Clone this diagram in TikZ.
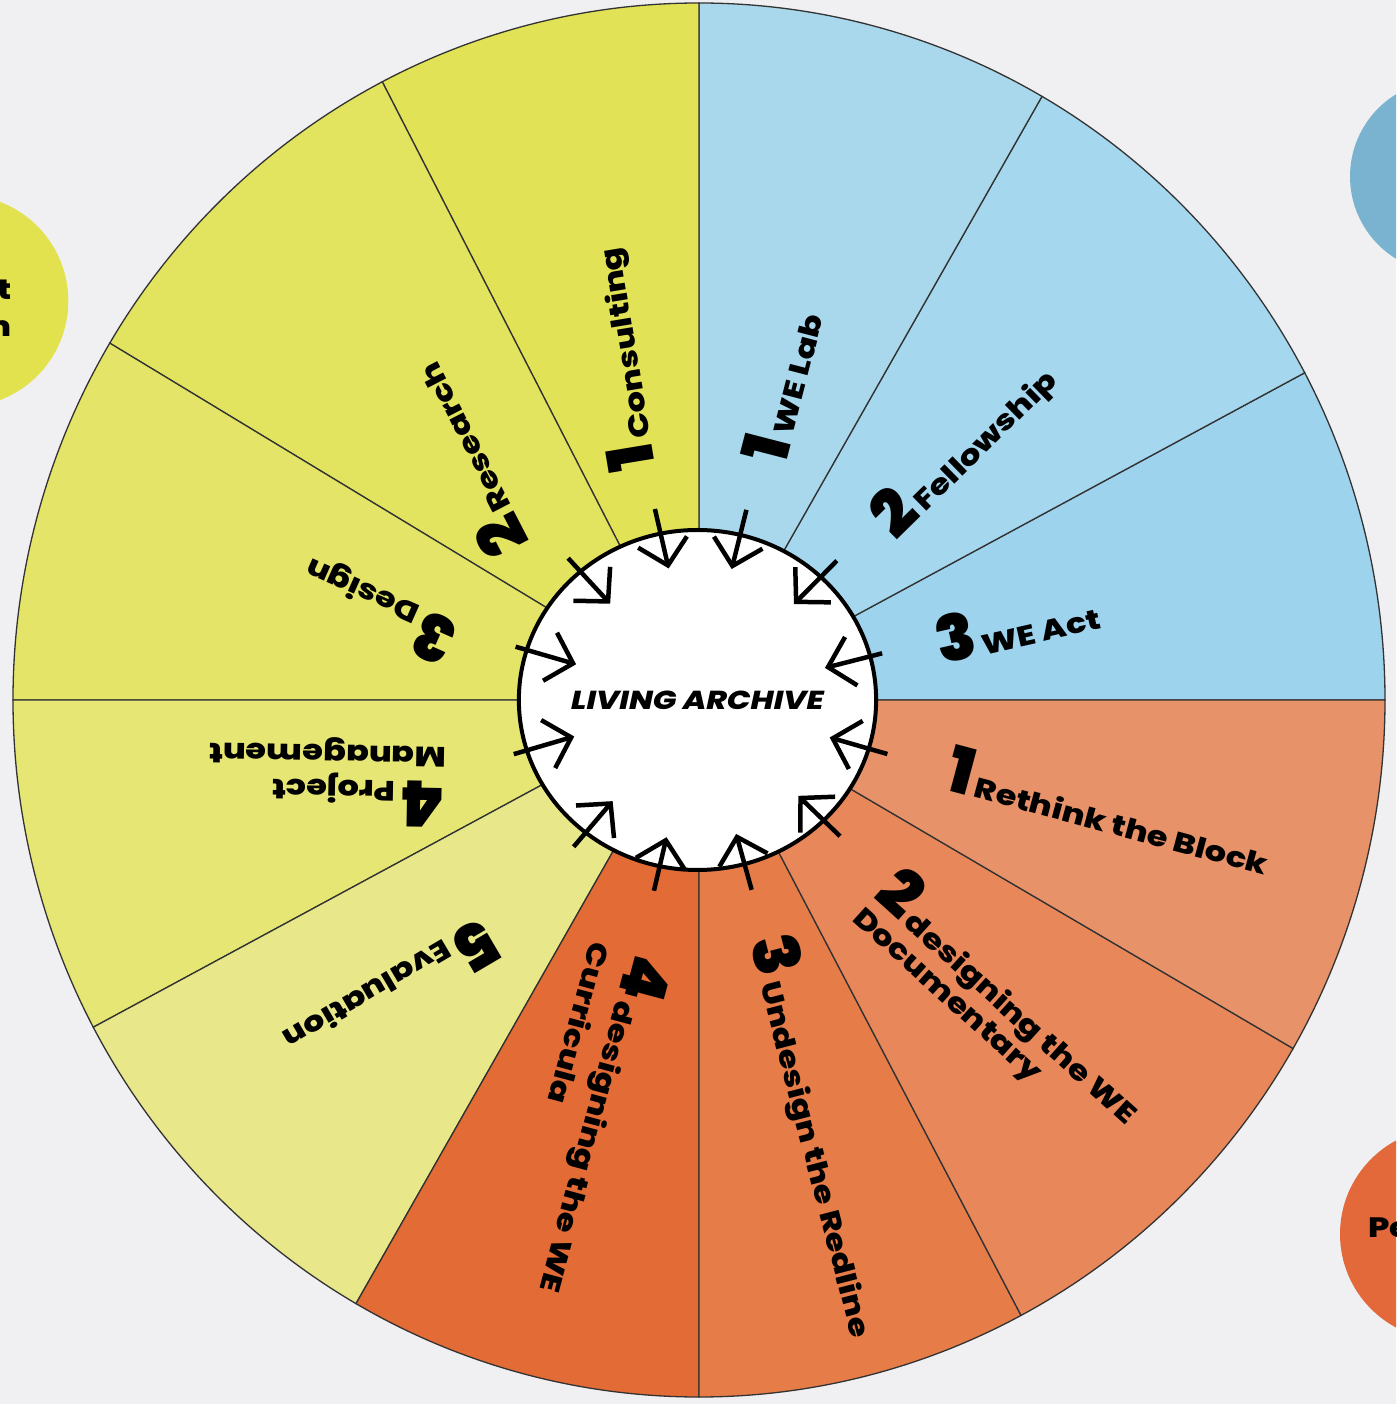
\documentclass[tikz,border=0pt]{standalone}
\usepackage{fontspec}
\setmainfont{Poppins}[FakeStretch=1.2, BoldFont={* ExtraBold}]
\newfontfamily\digitfont{Poppins}[BoldFont={* Black}]
\usepackage{tikz}
\usetikzlibrary{arrows.meta, shapes.geometric}
\definecolor{paper}{HTML}{F0F0F2}
\definecolor{yelA}{HTML}{E1E255}
\definecolor{yelB}{HTML}{E2E35E}
\definecolor{yelC}{HTML}{E4E468}
\definecolor{yelD}{HTML}{E6E674}
\definecolor{yelE}{HTML}{E8E78A}
\definecolor{bluA}{HTML}{A9D8EC}
\definecolor{bluB}{HTML}{A5D7EE}
\definecolor{bluC}{HTML}{9ED3EE}
\definecolor{orgA}{HTML}{E8926A}
\definecolor{orgB}{HTML}{E8875A}
\definecolor{orgC}{HTML}{E67C48}
\definecolor{orgD}{HTML}{E36B36}
\definecolor{spoke}{HTML}{333333}
\definecolor{sideblue}{HTML}{7AB3D0}
\definecolor{sideorange}{HTML}{E4693A}
\definecolor{sideyellow}{HTML}{E2E24E}
\newcommand{\stepnum}[1]{{\digitfont\fontsize{64}{64}\selectfont #1}\hspace{5pt}}

\begin{document}
\begin{tikzpicture}[x=1pt, y=1pt,
    wedge/.style={draw=spoke, line width=1.3pt},
    lbl/.style={anchor=base west, inner sep=0pt, font=\bfseries\fontsize{28}{32}\selectfont, text=black},
    inarrow/.style={line width=4.5pt, -{Straight Barb[length=24pt,width=50pt]}}]
            \useasboundingbox (-699,-704) rectangle (697,700);
            \clip (-699,-704) rectangle (697,700);
            \fill[paper] (-699,-704) rectangle (697,700);

            % side discs cut by the border
            \fill[sideyellow] (-736.7,399) circle (106);
            \fill[sideblue] (747.5,523.5) circle (96.5);
            \fill[sideorange] (747,-534) circle (106);
            \node[lbl, anchor=base east] (sideleft) at (-687,400) {\begin{tabular}[t]{@{}r@{}}t\\[5pt]n\hspace{5pt}\end{tabular}};
            \node[lbl] (sideright) at (669,-537) {Pe};

            % wedges
            \filldraw[wedge, fill=bluC] (0,0) -- (0:686 and 697) arc[start angle=0, end angle=28, x radius=686, y radius=697] -- cycle;
            \filldraw[wedge, fill=bluB] (0,0) -- (28:686 and 697) arc[start angle=28, end angle=60, x radius=686, y radius=697] -- cycle;
            \filldraw[wedge, fill=bluA] (0,0) -- (60:686 and 697) arc[start angle=60, end angle=90, x radius=686, y radius=697] -- cycle;
            \filldraw[wedge, fill=yelA] (0,0) -- (90:686 and 697) arc[start angle=90, end angle=117.5, x radius=686, y radius=697] -- cycle;
            \filldraw[wedge, fill=yelB] (0,0) -- (117.5:686 and 697) arc[start angle=117.5, end angle=149.2, x radius=686, y radius=697] -- cycle;
            \filldraw[wedge, fill=yelC] (0,0) -- (149.2:686 and 697) arc[start angle=149.2, end angle=180, x radius=686, y radius=697] -- cycle;
            \filldraw[wedge, fill=yelD] (0,0) -- (180:686 and 697) arc[start angle=180, end angle=208, x radius=686, y radius=697] -- cycle;
            \filldraw[wedge, fill=yelE] (0,0) -- (208:686 and 697) arc[start angle=208, end angle=240, x radius=686, y radius=697] -- cycle;
            \filldraw[wedge, fill=orgD] (0,0) -- (240:686 and 697) arc[start angle=240, end angle=270, x radius=686, y radius=697] -- cycle;
            \filldraw[wedge, fill=orgC] (0,0) -- (270:686 and 697) arc[start angle=270, end angle=298, x radius=686, y radius=697] -- cycle;
            \filldraw[wedge, fill=orgB] (0,0) -- (298:686 and 697) arc[start angle=298, end angle=330, x radius=686, y radius=697] -- cycle;
            \filldraw[wedge, fill=orgA] (0,0) -- (330:686 and 697) arc[start angle=330, end angle=360, x radius=686, y radius=697] -- cycle;

            % centre
            \node[ellipse, draw=black, line width=4pt, fill=white, minimum width=332pt, minimum height=340pt, inner sep=0pt,
                  font=\bfseries\itshape\fontsize{26}{30}\selectfont] (archive) at (-1.5,0) {LIVING ARCHIVE};

            % arrows into the centre
            \coordinate (consultS) at (103:196);   \coordinate (consultE) at (103:135);
            \coordinate (labS) at (76:196);        \coordinate (labE) at (76:135);
            \coordinate (researchS) at (132.7:193); \coordinate (researchE) at (132.7:131);
            \coordinate (fellowS) at (45.3:196);   \coordinate (fellowE) at (45.3:135);
            \coordinate (designS) at (163.8:191);  \coordinate (designE) at (163.8:128);
            \coordinate (actS) at (14.3:189);      \coordinate (actE) at (14.3:130);
            \coordinate (projS) at (196.3:193);    \coordinate (projE) at (196.3:130);
            \coordinate (blockS) at (-16:196);     \coordinate (blockE) at (-16:136);
            \coordinate (evalS) at (229.5:193);    \coordinate (evalE) at (229.5:133);
            \coordinate (docuS) at (-44:196);      \coordinate (docuE) at (-44:138);
            \coordinate (curricS) at (256.7:196);  \coordinate (curricE) at (256.7:141);
            \coordinate (redS) at (-74.5:197);     \coordinate (redE) at (-74.5:139);
            \draw[inarrow] (consultS) -- (consultE);
            \draw[inarrow] (labS) -- (labE);
            \draw[inarrow] (researchS) -- (researchE);
            \draw[inarrow] (fellowS) -- (fellowE);
            \draw[inarrow] (designS) -- (designE);
            \draw[inarrow] (actS) -- (actE);
            \draw[inarrow] (projS) -- (projE);
            \draw[inarrow] (blockS) -- (blockE);
            \draw[inarrow] (evalS) -- (evalE);
            \draw[inarrow] (docuS) -- (docuE);
            \draw[inarrow] (curricS) -- (curricE);
            \draw[inarrow] (redS) -- (redE);

            % labels
            \node[lbl, rotate=99.4] (consult) at (-43,233) {\stepnum{1}Consulting};
            \node[lbl, rotate=117.4] (research) at (-168,158) {\stepnum{2}Research};
            \node[lbl, rotate=156] (design) at (-237,75) {\stepnum{3}Design};
            \node[lbl, rotate=179] (proj) at (-253,-82) {\begin{tabular}[t]{@{}l@{}}\stepnum{4}Project\\[3pt]Management\end{tabular}};
            \node[lbl, rotate=210.5] (eval) at (-215,-214) {\stepnum{5}Evaluation};
            \node[lbl, rotate=-105] (curric) at (-69,-251) {\begin{tabular}[t]{@{}l@{}}\stepnum{4}designing the WE\\[8pt]Curricula\end{tabular}};
            \node[lbl, rotate=-75.5] (red) at (50,-241) {\stepnum{3}Undesign the Redline};
            \node[lbl, rotate=-42] (docu) at (173,-197) {\begin{tabular}[t]{@{}l@{}}\stepnum{2}designing the WE\\[-1pt]Documentary\end{tabular}};
            \node[lbl, rotate=-15] (block) at (244,-89) {\stepnum{1}Rethink the Block};
            \node[lbl, rotate=12.8] (act) at (242,35) {\stepnum{3}WE Act};
            \node[lbl, rotate=44.5] (fellow) at (197,158) {\stepnum{2}Fellowship};
            \node[lbl, rotate=75.5] (lab) at (86,233.5) {\stepnum{1}WE Lab};
\end{tikzpicture}
\end{document}
